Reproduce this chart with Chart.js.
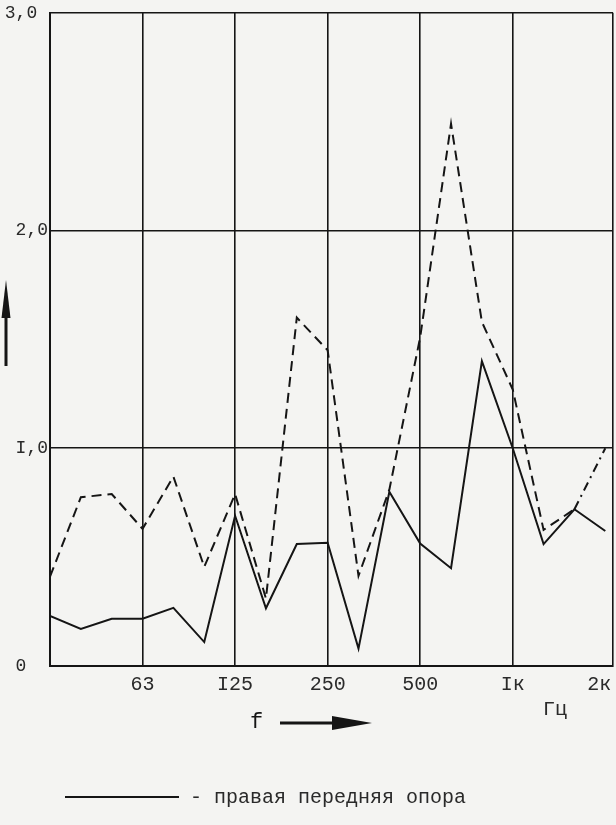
<!DOCTYPE html>
<html>
<head>
<meta charset="utf-8">
<script src="https://cdn.jsdelivr.net/npm/chart.js@4/dist/chart.umd.min.js"></script>
<style>
  html, body { margin: 0; padding: 0; background: #f4f4f2; }
  canvas { display: block; }
</style>
</head>
<body>
<canvas id="chart" width="616" height="825"></canvas>
<script>
// third-octave bands, Hz (x position = band index)
const bands = ['31,5', '40', '50', '63', '80', '100', '125', '160', '200', '250',
  '315', '400', '500', '630', '800', '1000', '1250', '1600', '2000'];

// solid line - правая передняя опора
const rightFront = [0.23, 0.17, 0.217, 0.217, 0.267, 0.11, 0.69, 0.265, 0.56, 0.566,
  0.08, 0.80, 0.562, 0.449, 1.40, 1.00, 0.56, 0.72, 0.62];

// dashed line (its legend entry is cut off in the source)
const secondSupport = [0.41, 0.775, 0.79, 0.63, 0.87, 0.455, 0.79, 0.31, 1.60, 1.45,
  0.414, 0.81, 1.51, 2.49, 1.58, 1.27, 0.625, 0.72, 1.00];

const xTickLabels = { 3: '63', 6: 'I25', 9: '250', 12: '500', 15: 'Iк', 18: '2к ' };
const yTickLabels = { 0: '0  ', 1: 'I,0', 2: '2,0', 3: '3,0 ' };
const xMax = 18.25;

const ink = '#151515';
const toPoints = vals => vals.map((v, i) => ({ x: i, y: v }));

const annotations = {
  id: 'annotations',
  afterDraw(chart) {
    const c = chart.ctx;
    c.save();
    c.fillStyle = ink;
    c.strokeStyle = ink;

    // vertical arrow on the left
    c.lineWidth = 3;
    c.beginPath();
    c.moveTo(6, 366);
    c.lineTo(6, 305);
    c.stroke();
    c.beginPath();
    c.moveTo(6, 280);
    c.lineTo(1.5, 318);
    c.lineTo(10.5, 318);
    c.closePath();
    c.fill();

    // f ->
    c.font = '22px "Liberation Mono"';
    c.textAlign = 'left';
    c.textBaseline = 'middle';
    c.fillText('f', 250, 722);
    c.lineWidth = 3;
    c.beginPath();
    c.moveTo(280, 723);
    c.lineTo(340, 723);
    c.stroke();
    c.beginPath();
    c.moveTo(372, 723);
    c.lineTo(332, 716);
    c.lineTo(332, 730);
    c.closePath();
    c.fill();

    // unit
    c.font = '20px "Liberation Mono"';
    c.fillStyle = '#2a2a2a';
    c.fillText('Гц', 543, 710);

    // legend
    c.lineWidth = 2;
    c.beginPath();
    c.moveTo(65, 797);
    c.lineTo(179, 797);
    c.stroke();
    c.fillText('- правая передняя опора', 190, 798);
    c.restore();
  }
};

new Chart(document.getElementById('chart'), {
  type: 'line',
  data: {
    datasets: [
      {
        label: 'правая передняя опора',
        data: toPoints(rightFront),
        borderColor: ink,
        borderWidth: 2,
        pointRadius: 0,
        tension: 0
      },
      {
        label: 'опора 2',
        data: toPoints(secondSupport),
        borderColor: ink,
        borderWidth: 2,
        borderDash: [10, 6],
        pointRadius: 0,
        tension: 0,
        segment: {
          borderDash: ctx => ctx.p0DataIndex === bands.length - 2 ? [9, 5, 2, 5] : undefined
        }
      }
    ]
  },
  options: {
    responsive: false,
    animation: false,
    layout: { padding: { top: 12, right: 3, bottom: 119, left: 0 } },
    plugins: { legend: { display: false }, tooltip: { enabled: false } },
    scales: {
      x: {
        type: 'linear',
        min: 0,
        max: xMax,
        afterBuildTicks: scale => {
          scale.ticks = Object.keys(xTickLabels).map(Number).concat(xMax).map(v => ({ value: v }));
        },
        afterFit: scale => {
          scale.height = 40;
          scale.paddingLeft = 0;
          scale.paddingRight = 0;
        },
        grid: {
          color: ctx => (ctx.tick && ctx.tick.value === 18) ? 'rgba(0,0,0,0)' : ink,
          lineWidth: 1.6,
          drawTicks: false
        },
        border: { display: true, color: ink, width: 2 },
        ticks: {
          autoSkip: false,
          maxRotation: 0,
          padding: 7,
          color: '#2a2a2a',
          font: { family: '"Liberation Mono"', size: 20 },
          callback: v => xTickLabels[v] ?? ''
        }
      },
      y: {
        min: 0,
        max: 3,
        afterFit: scale => { scale.width = 50; },
        grid: { color: ink, lineWidth: 1.6, drawTicks: false },
        border: { display: true, color: ink, width: 2 },
        ticks: {
          stepSize: 1,
          padding: 2,
          color: '#2a2a2a',
          font: { family: '"Liberation Mono"', size: 18 },
          callback: v => yTickLabels[v] ?? ''
        }
      }
    }
  },
  plugins: [annotations]
});
</script>
</body>
</html>
